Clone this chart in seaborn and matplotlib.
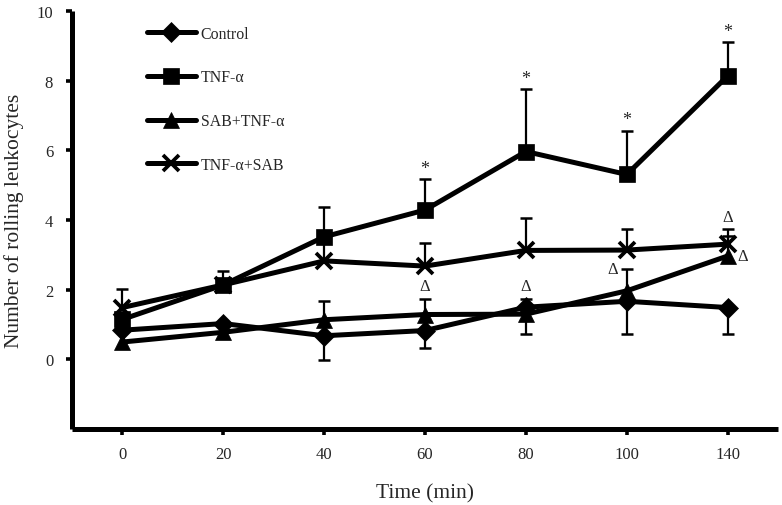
import numpy as np
import pandas as pd
import matplotlib
matplotlib.use("Agg")
import matplotlib.pyplot as plt
import seaborn as sns

# ---------------- data ----------------
time_labels = ["0", "20", "40", "60", "80", "100", "140"]

control = [0.84, 1.03, 0.68, 0.83, 1.50, 1.67, 1.49]
tnf = [1.15, 2.14, 3.52, 4.29, 5.97, 5.31, 8.14]
sab_tnf = [0.50, 0.78, 1.14, 1.29, 1.30, 1.97, 2.97]
tnf_sab = [1.49, 2.14, 2.83, 2.68, 3.13, 3.14, 3.31]

control_err_up = [0, 0, 0, 0, 0, 0, 0]
control_err_down = [0, 0, 0.71, 0.49, 0.78, 0.93, 0.75]
tnf_err_up = [0, 0.41, 0.85, 0.88, 1.79, 1.25, 0.97]
tnf_err_down = [0, 0, 0, 0, 0, 0, 0]
sab_tnf_err_up = [0, 0, 0.54, 0.45, 0.44, 0.63, 0.57]
sab_tnf_err_down = [0, 0, 0, 0, 0, 0, 0]
tnf_sab_err_up = [0.54, 0, 0.65, 0.66, 0.94, 0.60, 0.43]
tnf_sab_err_down = [0, 0, 0, 0, 0, 0, 0]

series_names = ["Control", "TNF-α", "SAB+TNF-α", "TNF-α+SAB"]
star_times = ["60", "80", "100", "140"]          # "*" over TNF-α
delta_times = ["60", "80", "100", "140", "140"]   # "Δ" marks for SAB+TNF-α
delta_place = ["above", "above", "left", "top", "right"]

# ---------------- style ----------------
sns.set_style("ticks")
plt.rcParams["font.family"] = ["Liberation Serif", "DejaVu Serif"]

fig = plt.figure(figsize=(7.82, 5.06), dpi=100)
ax = fig.add_axes([0.092, 0.150, 0.903, 0.826])

pos = np.arange(len(time_labels))
LW = 3.6
MS = 11

series = [
    (series_names[0], control, control_err_up, control_err_down, "D", MS - 0.5),
    (series_names[1], tnf, tnf_err_up, tnf_err_down, "s", MS),
    (series_names[2], sab_tnf, sab_tnf_err_up, sab_tnf_err_down, "^", MS + 1),
    (series_names[3], tnf_sab, tnf_sab_err_up, tnf_sab_err_down, "x", MS),
]

# error bars (behind lines)
for name, vals, up, down, mk, ms in series:
    vals = np.asarray(vals, float)
    up = np.asarray(up, float)
    down = np.asarray(down, float)
    m = up > 0
    ax.vlines(pos[m], vals[m], vals[m] + up[m], color="black", lw=1.6, zorder=1)
    ax.plot(pos[m], vals[m] + up[m], ls="none", marker="_", ms=8, mew=1.8,
            color="black", zorder=1)
    m = down > 0
    ax.vlines(pos[m], vals[m] - down[m], vals[m], color="black", lw=1.6, zorder=1)
    ax.plot(pos[m], vals[m] - down[m], ls="none", marker="_", ms=8, mew=1.8,
            color="black", zorder=1)

# lines with markers
for name, vals, up, down, mk, ms in series:
    df = pd.DataFrame({"pos": pos, "value": vals})
    sns.lineplot(data=df, x="pos", y="value", ax=ax, color="black", lw=LW,
                 marker=mk, markersize=ms,
                 markeredgewidth=(2.7 if mk == "x" else 0.5),
                 markeredgecolor="black", markerfacecolor="black",
                 label=name, errorbar=None, zorder=3)

# significance marks
tnf_arr = np.asarray(tnf); tnf_up = np.asarray(tnf_err_up)
for t in star_times:
    i = time_labels.index(t)
    ax.annotate("*", (pos[i], tnf_arr[i] + tnf_up[i]), xytext=(0, 8),
                textcoords="offset points", ha="center", va="center",
                fontsize=13)

sab_arr = np.asarray(sab_tnf); sab_up = np.asarray(sab_tnf_err_up)
tsab_arr = np.asarray(tnf_sab); tsab_up = np.asarray(tnf_sab_err_up)
for t, place in zip(delta_times, delta_place):
    i = time_labels.index(t)
    top = sab_arr[i] + sab_up[i]
    if place == "above":
        xy, off = (pos[i], top), (0, 9)
    elif place == "left":
        xy, off = (pos[i], top), (-10, 0)
    elif place == "top":
        xy, off = (pos[i], max(top, tsab_arr[i] + tsab_up[i])), (0, 9)
    else:
        xy, off = (pos[i], sab_arr[i]), (11, 0)
    ax.annotate("Δ", xy, xytext=off, textcoords="offset points",
                ha="center", va="center", fontsize=12)

# axes
ax.set_xlim(-0.5, 6.5)
ax.set_ylim(-2, 10)
ax.set_xticks(pos)
ax.set_xticklabels(time_labels)
ax.set_yticks([0, 2, 4, 6, 8, 10])
ax.set_xlabel("Time (min)", fontsize=15.5, labelpad=15)
ax.set_ylabel("Number of rolling leukocytes", fontsize=15.5, labelpad=9)
ax.tick_params(axis="both", labelsize=12, width=2.6, length=4.5,
               direction="out", color="black")
ax.tick_params(axis="x", pad=8)
ax.tick_params(axis="y", pad=9)
for s in ["top", "right"]:
    ax.spines[s].set_visible(False)
for s in ["left", "bottom"]:
    ax.spines[s].set_linewidth(3.6)
    ax.spines[s].set_color("black")
    ax.spines[s].set_capstyle("butt")

leg = ax.legend(loc="upper left", bbox_to_anchor=(0.106, 0.965), frameon=False,
                borderpad=0, borderaxespad=0, handlelength=3.1,
                handletextpad=0.3, labelspacing=1.75, fontsize=11.4,
                numpoints=1)

fig.savefig("out.png", dpi=100)
